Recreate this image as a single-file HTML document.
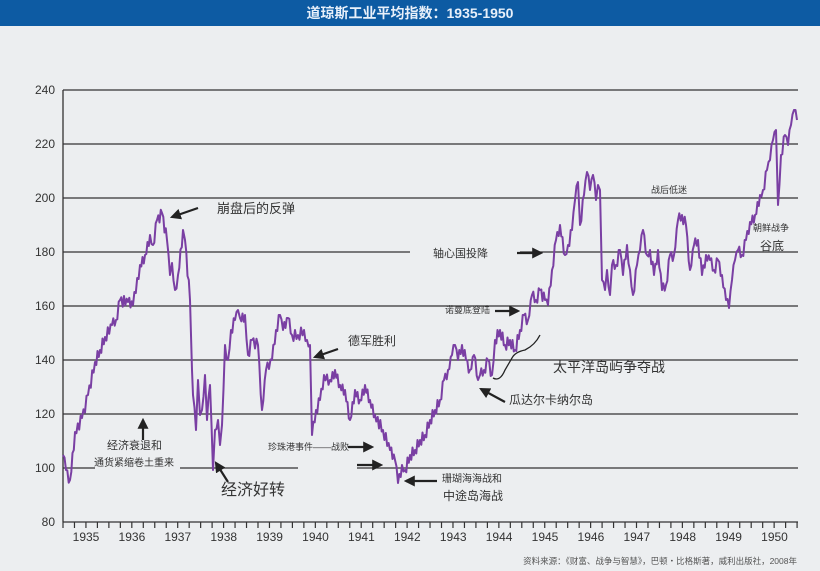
<!DOCTYPE html>
<html><head><meta charset="utf-8"><style>
body{margin:0;width:820px;height:571px;background:#eceef0;overflow:hidden;font-family:"Liberation Sans","Noto Sans CJK SC",sans-serif}
</style></head><body>
<svg width="820" height="571" xmlns="http://www.w3.org/2000/svg" style="position:absolute;left:0;top:0">
<rect x="0" y="0" width="820" height="26" fill="#0d5ba3"/>
<text x="410" y="18" text-anchor="middle" font-size="14" font-weight="bold" fill="#e8f0fa" font-family="Liberation Sans,Noto Sans CJK SC,sans-serif">道琼斯工业平均指数：1935-1950</text>
<g stroke="#333" stroke-width="1.3">
<line x1="63" y1="90" x2="798" y2="90"/><line x1="63" y1="144" x2="798" y2="144"/>
<line x1="63" y1="198" x2="798" y2="198"/><line x1="63" y1="252" x2="410" y2="252"/>
<line x1="520" y1="252" x2="798" y2="252"/><line x1="63" y1="306" x2="798" y2="306"/>
<line x1="63" y1="360" x2="798" y2="360"/><line x1="63" y1="414" x2="798" y2="414"/>
<line x1="63" y1="468" x2="95" y2="468"/><line x1="180" y1="468" x2="298" y2="468"/>
<line x1="357" y1="468" x2="798" y2="468"/>
<line x1="63" y1="90" x2="63" y2="522"/><line x1="63" y1="522" x2="798" y2="522"/>
</g>
<g id="ticks" stroke="#333" stroke-width="1.2"></g>
<g font-size="12" fill="#333" text-anchor="end">
<text x="55" y="94">240</text><text x="55" y="148">220</text><text x="55" y="202">200</text><text x="55" y="256">180</text><text x="55" y="310">160</text><text x="55" y="364">140</text><text x="55" y="418">120</text><text x="55" y="472">100</text><text x="55" y="526">80</text>
</g>
<g id="years" font-size="12" fill="#333" text-anchor="middle"></g>
<polyline id="ser" fill="none" stroke="#7a3fa3" stroke-width="2" stroke-linejoin="round" points=""/>
<defs><marker id="ah" markerWidth="5" markerHeight="5" refX="4" refY="2.5" orient="auto"><path d="M0,0 L5,2.5 L0,5 z" fill="#222"/></marker></defs>
<g stroke="#222" stroke-width="2.2" marker-end="url(#ah)">
<line x1="198" y1="208" x2="172" y2="217"/>
<line x1="517" y1="253" x2="541" y2="253"/>
<line x1="495" y1="311" x2="518" y2="311"/>
<line x1="338" y1="349" x2="315" y2="357"/>
<line x1="505" y1="402" x2="481" y2="389"/>
<line x1="348" y1="447" x2="372" y2="447"/>
<line x1="357" y1="465" x2="381" y2="465"/>
<line x1="437" y1="481" x2="406" y2="481"/>
<line x1="143" y1="440" x2="143" y2="420"/>
<line x1="228" y1="482" x2="216" y2="463"/>
</g>
<path d="M493,378 Q500,382 505,370 L512,358 Q515,352 525,350 Q535,345 540,335" fill="none" stroke="#222" stroke-width="1.3"/>
<g fill="#333">
<text x="217" y="213" font-size="13">崩盘后的反弹</text>
<text x="433" y="257" font-size="11">轴心国投降</text>
<text x="651" y="193" font-size="9">战后低迷</text>
<text x="753" y="231" font-size="9">朝鲜战争</text>
<text x="760" y="250" font-size="12">谷底</text>
<text x="445" y="313" font-size="9">诺曼底登陆</text>
<text x="348" y="345" font-size="12">德军胜利</text>
<text x="553" y="372" font-size="14">太平洋岛屿争夺战</text>
<text x="509" y="404" font-size="12">瓜达尔卡纳尔岛</text>
<text x="268" y="450" font-size="9">珍珠港事件——战败</text>
<text x="442" y="482" font-size="10">珊瑚海海战和</text>
<text x="443" y="500" font-size="12">中途岛海战</text>
<text x="107" y="449" font-size="11">经济衰退和</text>
<text x="94" y="466" font-size="10">通货紧缩卷土重来</text>
<text x="221" y="495" font-size="16">经济好转</text>
<text x="797" y="564" font-size="8.5" text-anchor="end" fill="#555">资料来源：《财富、战争与智慧》，巴顿・比格斯著，威利出版社，2008年</text>
</g>
</svg>
<script>
var ns="http://www.w3.org/2000/svg";
var t=document.getElementById("ticks"),yr=document.getElementById("years");
for(var i=0;i<=64;i++){var x=63+i*11.47;if(x>799)break;var l=document.createElementNS(ns,"line");l.setAttribute("x1",x);l.setAttribute("x2",x);l.setAttribute("y1",522);l.setAttribute("y2",528);t.appendChild(l);}
for(var y=0;y<16;y++){var tx=document.createElementNS(ns,"text");tx.setAttribute("x",86+y*45.9);tx.setAttribute("y",541);tx.textContent=1935+y;yr.appendChild(tx);}
var k=[[63,455],[66,470],[70,480],[75,432],[82,418],[88,395],[95,362],[100,350],[105,337],[112,325],[116,320],[120,300],[128,302],[133,305],[140,265],[145,255],[150,235],[153,245],[157,220],[162,213],[167,240],[170,275],[172,263],[175,290],[178,275],[183,230],[185,240],[190,300],[192,370],[193,395],[196,430],[198,380],[200,415],[202,410],[205,375],[207,420],[210,385],[213,470],[215,430],[218,420],[220,445],[222,425],[225,345],[228,360],[231,330],[235,320],[238,310],[240,318],[245,315],[248,355],[252,340],[258,345],[262,410],[266,370],[272,360],[276,330],[280,315],[283,330],[288,318],[292,335],[298,335],[304,330],[307,340],[310,345],[312,435],[316,410],[320,400],[324,375],[330,380],[335,370],[340,385],[345,390],[350,420],[355,390],[360,400],[365,385],[370,400],[375,415],[383,430],[390,450],[395,460],[398,483],[402,465],[405,470],[410,455],[415,450],[420,440],[425,435],[430,420],[435,410],[440,400],[444,380],[448,370],[452,355],[455,345],[458,360],[462,345],[466,360],[470,370],[474,355],[478,380],[480,375],[484,370],[488,360],[492,375],[495,340],[500,330],[505,345],[510,340],[515,350],[520,330],[524,315],[528,320],[532,295],[536,300],[540,290],[545,300],[548,305],[552,270],[556,240],[560,225],[565,255],[568,245],[572,230],[575,200],[578,182],[580,225],[584,195],[587,172],[590,190],[593,175],[596,200],[598,185],[600,190],[601,235],[602,280],[605,290],[607,270],[610,295],[612,265],[616,265],[620,250],[623,275],[627,245],[630,270],[633,295],[637,265],[640,250],[643,230],[647,255],[650,250],[654,275],[658,250],[662,290],[666,285],[670,255],[674,255],[678,220],[682,215],[686,225],[690,270],[694,245],[698,240],[702,275],[706,255],[710,260],[714,270],[718,260],[722,275],[726,300],[729,308],[732,280],[735,260],[738,250],[742,255],[746,240],[750,222],[755,215],[760,195],[763,190],[767,170],[770,160],[773,140],[776,130],[778,205],[781,155],[785,135],[788,145],[791,125],[794,110],[797,120]];
var pts=[],s=0;
for(var j=0;j<k.length-1;j++){var a=k[j],b=k[j+1];var n=Math.max(1,Math.round((b[0]-a[0])/1.4));for(var m=0;m<n;m++){var f=m/n;var x=a[0]+(b[0]-a[0])*f,yv=a[1]+(b[1]-a[1])*f;s++;var jit=(s%2?1:-1)*(3+((s*7)%4));if(m==0)jit=0;pts.push(x.toFixed(1)+","+(yv+jit).toFixed(1));}}
pts.push(k[k.length-1].join(","));
document.getElementById("ser").setAttribute("points",pts.join(" "));
</script>
</body></html>
